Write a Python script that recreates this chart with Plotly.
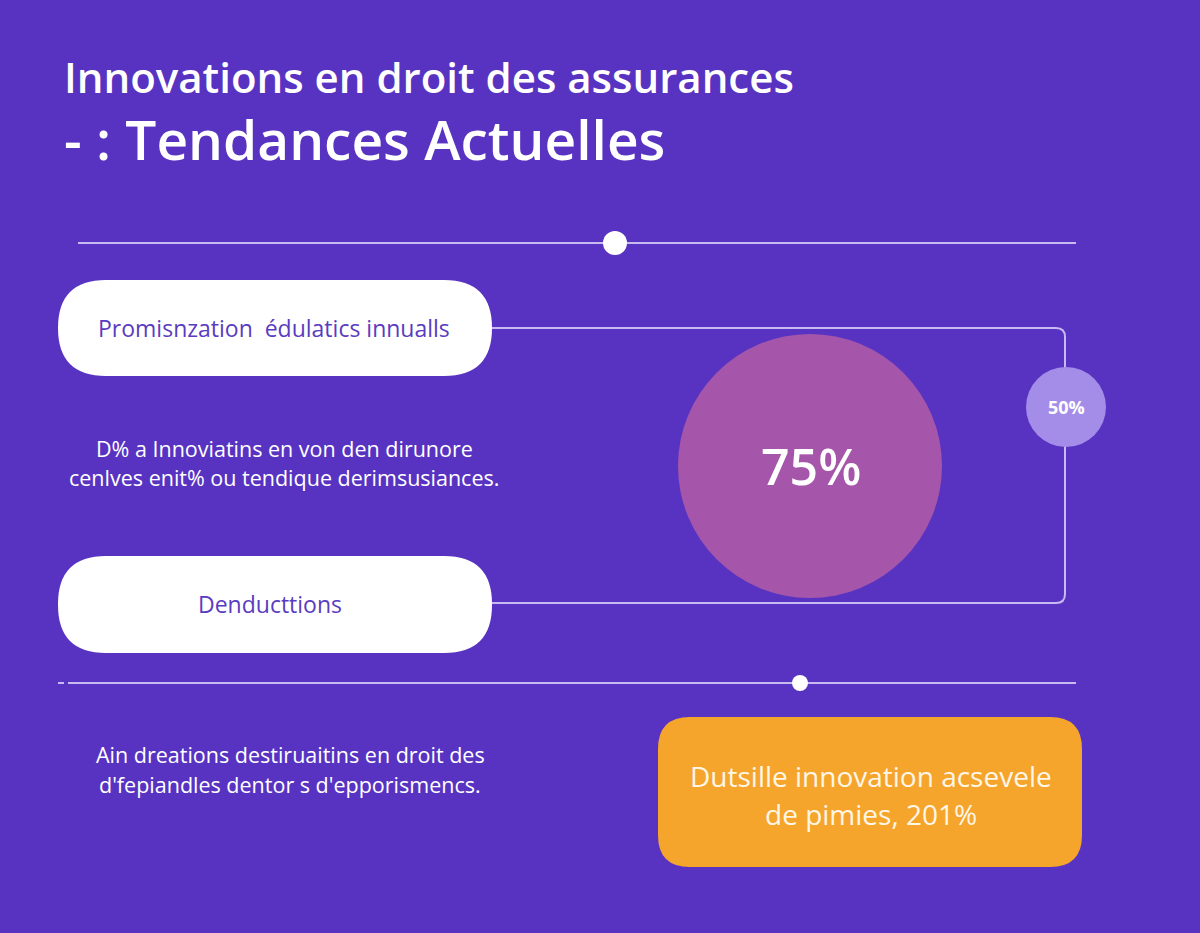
import plotly.graph_objects as go

# texts and values read from the infographic
title_lines = ["Innovations en droit des assurances", "- : Tendances Actuelles"]
pill_labels = ["Promisnzation  édulatics innualls", "Denducttions"]
middle_text = ["D% a Innoviatins en von den dirunore", "cenlves enit% ou tendique derimsusiances."]
bottom_text = ["Ain dreations destiruaitins en droit des", "d'fepiandles dentor s d'epporismencs."]
big_pct = 75
small_pct = 50
box_text = ["Dutsille innovation acsevele", "de pimies, 201%"]

BG = "#5833C2"
LINE = "#C9B9F2"
FONT = "Open Sans"

fig = go.Figure()


def rounded_rect(x0, y0, x1, y1, r):
    return (f"M{x0+r},{y0} L{x1-r},{y0} Q{x1},{y0} {x1},{y0+r} L{x1},{y1-r} "
            f"Q{x1},{y1} {x1-r},{y1} L{x0+r},{y1} Q{x0},{y1} {x0},{y1-r} "
            f"L{x0},{y0+r} Q{x0},{y0} {x0+r},{y0} Z")


shapes = []
# top divider with dot
shapes.append(dict(type="line", x0=78, x1=1076, y0=243, y1=243, line=dict(color=LINE, width=2)))
shapes.append(dict(type="circle", x0=603, x1=627, y0=231, y1=255, fillcolor="white", line=dict(width=0)))

# connector bracket
shapes.append(dict(type="path",
                   path="M492,328 L1056,328 Q1065,328 1065,337 L1065,594 Q1065,603 1056,603 L492,603",
                   line=dict(color=LINE, width=2)))

# pills
shapes.append(dict(type="path", path=rounded_rect(58, 280, 492, 376, 48), fillcolor="white", line=dict(width=0)))
shapes.append(dict(type="path", path=rounded_rect(58, 556, 492, 653, 48), fillcolor="white", line=dict(width=0)))

# big circle and small circle
shapes.append(dict(type="circle", x0=678, x1=942, y0=334, y1=598, fillcolor="#A556AA", line=dict(width=0)))
shapes.append(dict(type="circle", x0=1026, x1=1106, y0=367, y1=447, fillcolor="#A48DE8", line=dict(width=0)))

# bottom divider with dot
shapes.append(dict(type="line", x0=58, x1=64, y0=683, y1=683, line=dict(color=LINE, width=2)))
shapes.append(dict(type="line", x0=68, x1=1076, y0=683, y1=683, line=dict(color=LINE, width=2)))
shapes.append(dict(type="circle", x0=792, x1=808, y0=675, y1=691, fillcolor="white", line=dict(width=0)))

# orange box
shapes.append(dict(type="path", path=rounded_rect(658, 717, 1082, 867, 32), fillcolor="#F5A52B", line=dict(width=0)))

annotations = []


def txt(x, y, s, size, color="white", xanchor="center", weight="normal"):
    annotations.append(dict(x=x, y=y, text=s, showarrow=False, xanchor=xanchor, yanchor="middle",
                            font=dict(family=FONT, size=size, color=color, weight=weight)))


txt(62, 76, title_lines[0], 42, xanchor="left", weight=600)
txt(62, 138, title_lines[1], 55, xanchor="left", weight=600)
txt(274, 328, pill_labels[0], 23, color="#5A3CC0")
txt(270, 604, pill_labels[1], 23, color="#5A3CC0")
txt(284, 448, middle_text[0], 21.5)
txt(284, 477, middle_text[1], 21.5)
txt(290, 754, bottom_text[0], 21.5)
txt(290, 784, bottom_text[1], 21.5)
txt(811, 466, f"{big_pct}%", 50, weight=600)
txt(1066, 407, f"{small_pct}%", 18, weight="bold")
txt(871, 776, box_text[0], 28, color="#FFF6E6")
txt(871, 814, box_text[1], 28, color="#FFF6E6")

fig.update_layout(
    width=1200, height=933,
    margin=dict(l=0, r=0, t=0, b=0),
    paper_bgcolor=BG, plot_bgcolor=BG,
    shapes=shapes, annotations=annotations,
    showlegend=False,
    xaxis=dict(range=[0, 1200], visible=False, fixedrange=True),
    yaxis=dict(range=[933, 0], visible=False, fixedrange=True),
)

# drop the default page margin so the figure fills the window
fig.write_html("out.html", config={"displayModeBar": False},
               post_script="document.body.style.margin='0';document.body.style.background='" + BG + "';")
